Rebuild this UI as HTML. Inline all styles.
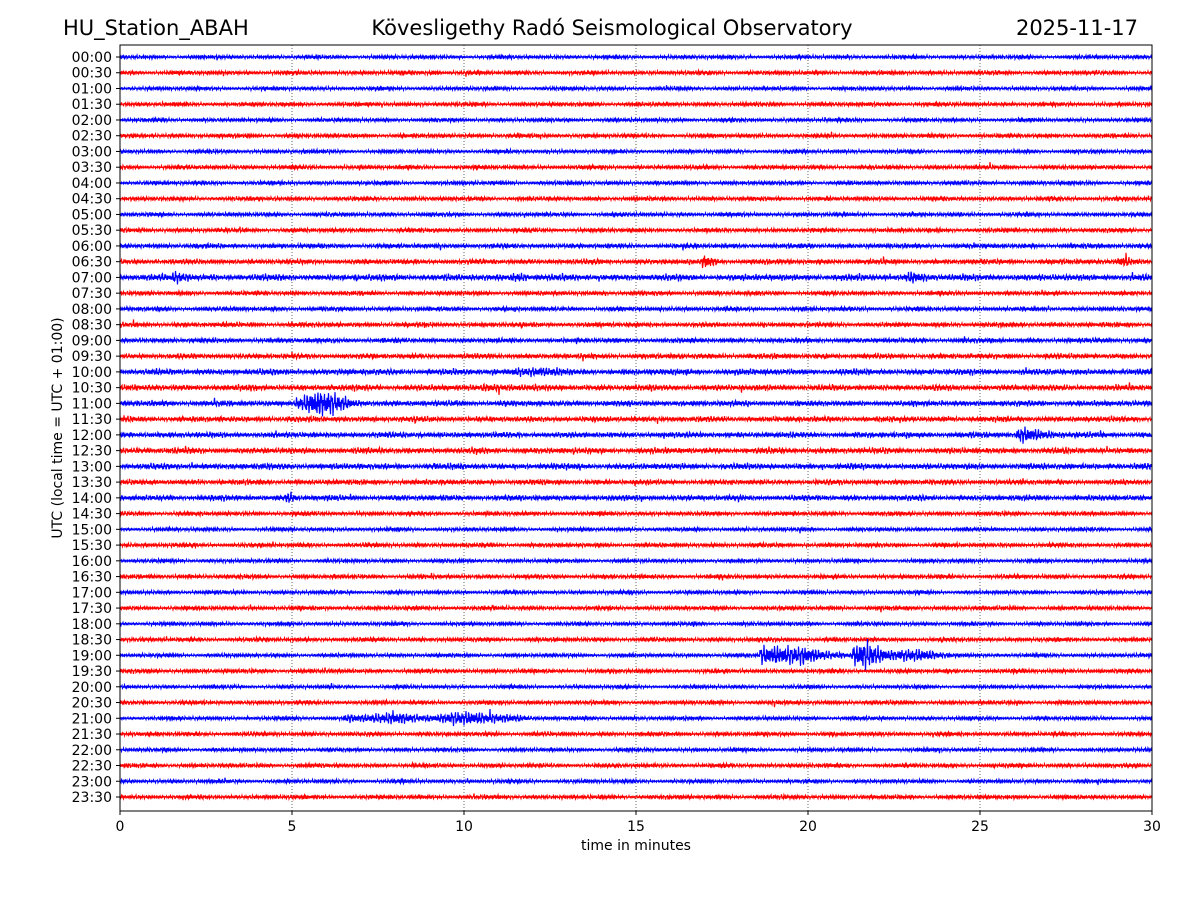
<!DOCTYPE html>
<html><head><meta charset="utf-8"><style>
body{margin:0;background:#fff;}
svg text{font-family:"DejaVu Sans","Liberation Sans",sans-serif;fill:#000;}
</style></head><body>
<svg id="chart" width="1200" height="900" viewBox="0 0 1200 900" xmlns="http://www.w3.org/2000/svg">
<rect x="0" y="0" width="1200" height="900" fill="#fff"/>
<text x="63" y="35" font-size="21">HU_Station_ABAH</text>
<text x="612" y="35" font-size="21" text-anchor="middle">Kövesligethy Radó Seismological Observatory</text>
<text x="1138" y="35" font-size="21" text-anchor="end">2025-11-17</text>
<g id="grid"></g>
<g id="traces"></g>
<rect x="120" y="45" width="1032" height="766" fill="none" stroke="#000" stroke-width="1"/>
<g id="axes"></g>
<text x="636" y="850" font-size="14" text-anchor="middle">time in minutes</text>
<text transform="translate(62,428) rotate(-90)" font-size="14" text-anchor="middle">UTC (local time = UTC + 01:00)</text>
</svg>
<script>
const rowLabels = [];
for (let h = 0; h < 24; h++) { const hh = String(h).padStart(2,'0'); rowLabels.push(hh+':00'); rowLabels.push(hh+':30'); }
const xTicks = [0,5,10,15,20,25,30];
const baseAmp = [1.6,1.8,1.6,1.8,1.6,1.8,1.6,1.8,1.7,1.8,1.7,1.8,2,2.2,2.8,1.8,1.8,2,2,2.2,2.6,2.6,2.4,2.4,2.4,2.6,2.6,2.2,2.4,1.8,1.6,1.8,1.6,1.8,1.6,1.8,1.6,1.8,1.6,1.8,1.5,1.8,1.6,1.8,1.6,1.8,1.6,1.8];
// events: row, start, peak, end (minutes), amplitude (px)
const evRow   = [1,  13,  13,  14,  14,  14,  20,  21,  22,  24,   28,  38,   38,   42];
const evStart = [9.0,16.9,29.0,1.5, 11.4,22.8,11.4,10.5,5.1, 26.05,4.8, 18.6, 21.3, 6.5];
const evPeak  = [9.1,17.0,29.2,1.7, 11.6,23.0,12.0,11.0,5.6, 26.15,4.95,19.1, 21.7, 10.5];
const evEnd   = [9.4,17.6,30,  2.2, 12.2,24.0,13.0,12.0,7.5, 27.8, 5.3, 21.5, 24.6, 12.8];
const evAmp   = [4,  6,   6,   5,   5,   5,   5,   4,   14,  9,    6,   17,   15,   6];

const X0=120,X1=1152,Y0=57,Y1=797;
const xs = m => X0 + (m/30)*(X1-X0);
const ys = r => Y0 + r*(Y1-Y0)/47;
const NS='http://www.w3.org/2000/svg';
const grid=document.getElementById('grid'), traces=document.getElementById('traces'), axes=document.getElementById('axes');

xTicks.forEach(t=>{
  const x=xs(t);
  if(t>0&&t<30){
    const l=document.createElementNS(NS,'line');
    
    
    l.setAttribute('x1',x);l.setAttribute('x2',x);l.setAttribute('y1',45);l.setAttribute('y2',811);
    l.setAttribute('stroke','#000');l.setAttribute('stroke-width','0.6');l.setAttribute('stroke-dasharray','1,2');
    grid.appendChild(l);
  }
  const tk=document.createElementNS(NS,'line');
  
  
  tk.setAttribute('x1',x);tk.setAttribute('x2',x);tk.setAttribute('y1',811);tk.setAttribute('y2',815);tk.setAttribute('stroke','#000');
  axes.appendChild(tk);
  const tx=document.createElementNS(NS,'text');
  
  
  tx.setAttribute('x',x);tx.setAttribute('y',831);tx.setAttribute('font-size','14');tx.setAttribute('text-anchor','middle');
  tx.textContent=t; axes.appendChild(tx);
});

rowLabels.forEach((lab,r)=>{
  const y=ys(r);
  const tk=document.createElementNS(NS,'line');
  
  
  tk.setAttribute('x1',116);tk.setAttribute('x2',120);tk.setAttribute('y1',y);tk.setAttribute('y2',y);tk.setAttribute('stroke','#000');
  axes.appendChild(tk);
  const tx=document.createElementNS(NS,'text');
  
  
  tx.setAttribute('x',112);tx.setAttribute('y',y+5);tx.setAttribute('font-size','14');tx.setAttribute('text-anchor','end');
  tx.textContent=lab; axes.appendChild(tx);

  let pts=[];
  const N=2064;
  for(let i=0;i<=N;i++){
    const m=i/N*30;
    let env=baseAmp[r]*1.35;
    for(let e=0;e<evRow.length;e++){
      if(evRow[e]!==r) continue;
      if(m>=evStart[e]&&m<=evEnd[e]){
        let f = m<evPeak[e] ? 0.55+0.45*(m-evStart[e])/Math.max(evPeak[e]-evStart[e],0.01)
                            : Math.pow(1-(m-evPeak[e])/(evEnd[e]-evPeak[e]),1.5);
        env+=evAmp[e]*f;
      }
    }
    const w=Math.sin(i*2.37+r*1.3)*0.55+Math.sin(i*0.91+r*0.7)*0.3+Math.sin(i*5.13+r)*0.25;
    const mod=0.8+0.3*Math.sin(i*0.043+r*2.1)*Math.sin(i*0.011+r);
    const spike=(i%97===(r*13)%97)?1.8:1;
    pts.push(xs(m).toFixed(1)+','+(y+env*w*mod*spike).toFixed(2));
  }
  const pl=document.createElementNS(NS,'polyline');
  
  
  pl.setAttribute('points',pts.join(' '));
  pl.setAttribute('fill','none');
  pl.setAttribute('stroke', r%2===0?'#0000ff':'#ff0000');
  pl.setAttribute('stroke-width','1.2');
  traces.appendChild(pl);
});
</script>
</body></html>
